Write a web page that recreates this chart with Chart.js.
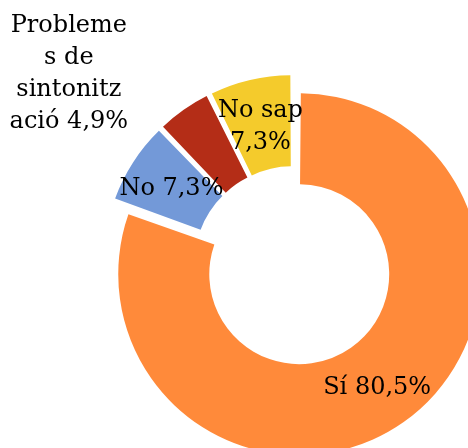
<!DOCTYPE html>
<html>
<head>
<meta charset="utf-8">
<script src="https://cdn.jsdelivr.net/npm/chart.js@4/dist/chart.umd.min.js"></script>
<style>
  html, body { margin: 0; padding: 0; background: #fff; }
  canvas { display: block; }
</style>
</head>
<body>
<canvas id="c" width="468" height="448"></canvas>
<script>
// ---- data ----
const categories = ['Sí', 'No', 'Problemes de sintonització', 'No sap'];
const values = [80.5, 7.3, 4.9, 7.3];
const colors = ['#FF8A3A', '#7399D8', '#B42D17', '#F4CB2C'];
// label text as shown (wrapped like the original)
const labelText = [
  'Sí 80,5%',
  'No 7,3%',
  'Probleme\ns de\nsintonitz\nació 4,9%',
  'No sap\n7,3%'
];

const EXPLODE = 10; // px translation of each slice

// Compensate Chart.js' radius inflation on offset arcs so slices only translate.
const offsetFix = {
  id: 'offsetFix',
  beforeDatasetsDraw(chart) {
    const meta = chart.getDatasetMeta(0);
    meta.data.forEach(arc => {
      const off = (arc.options.offset || 0) / 4;
      const fix = 1 - Math.sin(Math.min(Math.PI, arc.circumference || 0));
      const ro = off * fix;
      arc._o = [arc.outerRadius, arc.innerRadius];
      arc.outerRadius -= ro;
      arc.innerRadius -= ro;
    });
  },
  afterDatasetsDraw(chart) {
    const meta = chart.getDatasetMeta(0);
    meta.data.forEach(arc => {
      if (arc._o) { arc.outerRadius = arc._o[0]; arc.innerRadius = arc._o[1]; }
    });
  }
};

const sliceLabels = {
  id: 'sliceLabels',
  afterDatasetsDraw(chart, args, opts) {
    const ctx = chart.ctx;
    const meta = chart.getDatasetMeta(0);
    ctx.save();
    ctx.font = opts.font;
    ctx.fillStyle = '#000';
    ctx.textAlign = 'center';
    ctx.textBaseline = 'alphabetic';
    meta.data.forEach((arc, i) => {
      const mid = (arc.startAngle + arc.endAngle) / 2;
      const t = (arc.options.offset || 0) / 4;
      const r = (arc.innerRadius + arc.outerRadius) / 2 + t;
      let cx = arc.x + Math.cos(mid) * r;
      let cy = arc.y + Math.sin(mid) * r;
      const n = opts.nudge[i] || [0, 0];
      cx += n[0]; cy += n[1];
      const lines = labelText[i].split('\n');
      const lh = opts.lineHeight;
      lines.forEach((ln, k) => {
        const by = cy + (k - (lines.length - 1) / 2) * lh + opts.baselineShift;
        ctx.fillText(ln, cx, by);
      });
    });
    ctx.restore();
  }
};

new Chart(document.getElementById('c'), {
  type: 'doughnut',
  data: {
    labels: categories,
    datasets: [{
      data: values,
      backgroundColor: colors,
      borderWidth: 0,
      offset: EXPLODE * 4,
      hoverOffset: 0,
      clip: false
    }]
  },
  options: {
    responsive: false,
    animation: false,
    events: [],
    radius: 181,
    cutout: '49.7%',
    rotation: 0,
    layout: { padding: { left: 119, right: 0, top: 84, bottom: 0 } },
    plugins: {
      legend: { display: false },
      tooltip: { enabled: false },
      title: { display: false },
      sliceLabels: {
        font: '24px "DejaVu Serif"',
        lineHeight: 32,
        baselineShift: 8.5,
        nudge: [[0, 0], [0, 0], [-141, -75], [0, 0]]
      }
    }
  },
  plugins: [offsetFix, sliceLabels]
});
</script>
</body>
</html>
